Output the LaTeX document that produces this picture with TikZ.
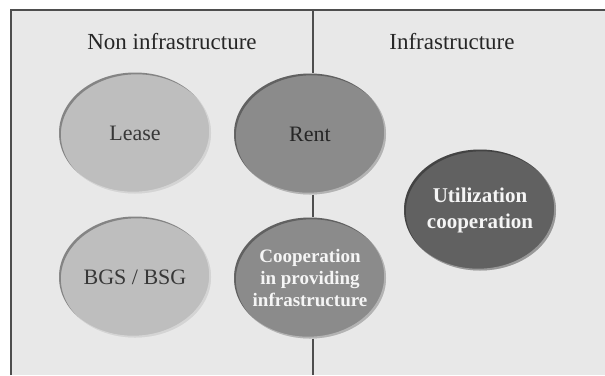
\documentclass[tikz,border=0pt]{standalone}
\usepackage{fontspec}
\setmainfont{Liberation Serif}
\usetikzlibrary{shapes.geometric}
\definecolor{panel}{HTML}{E8E8E8}
\definecolor{rule}{HTML}{4E4E4E}
\definecolor{pale}{HTML}{BEBEBE}
\definecolor{mid}{HTML}{8B8B8B}
\definecolor{deep}{HTML}{616161}

\begin{document}
\begin{tikzpicture}[x=1pt,y=-1pt,
bubble/.style={ellipse,fill=#1,minimum width=152pt,minimum height=121pt,inner sep=0pt,
  path picture={
    \fill[black,opacity=.3,even odd rule] (path picture bounding box.south west) rectangle (path picture bounding box.north east)
      ([shift={(1.8pt,-1.8pt)}]path picture bounding box.center) ellipse [x radius=76pt,y radius=60.5pt];
    \fill[white,opacity=.35,even odd rule] (path picture bounding box.south west) rectangle (path picture bounding box.north east)
      ([shift={(-1.8pt,1.8pt)}]path picture bounding box.center) ellipse [x radius=76pt,y radius=60.5pt];}},
every label/.style={align=center,font=\fontsize{22}{26}\selectfont,text=black!78},
strong/.style={font=\fontsize{21}{26}\selectfont\bfseries,text=white!96!black},
small/.style={font=\fontsize{19}{22}\selectfont\bfseries,text=white!96!black},
title/.style={font=\fontsize{23}{28}\selectfont,text=black!85}
]
\useasboundingbox (0,0) rectangle (605,375);
\fill[panel] (11,10) rectangle (605,375);
\draw[rule,line width=1.6pt] (11,375) -- (11,10) -- (605,10);

\node[title] (non) at (172,42) {Non infrastructure};
\node[title] (infra) at (452,42) {Infrastructure};

\node[bubble=pale,label=center:Lease] (lease) at (135,133) {};
\node[bubble=pale,label=center:BGS / BSG] (bgs) at (135,277) {};
\node[bubble=mid,label={[text=black!85]center:Rent}] (rent) at (310,134) {};
\node[bubble=mid,label={[small]center:Cooperation\\in providing\\infrastructure}] (coop) at (310,278) {};
\node[bubble=deep,label={[strong]center:Utilization\\cooperation}] (util) at (480,210) {};

\coordinate (top) at (313,10);
\coordinate (bottom) at (313,375);
\draw[rule,line width=1.4pt] (top) -- (top |- rent.north) (top |- rent.south) -- (top |- coop.north) (top |- coop.south) -- (bottom);
\end{tikzpicture}
\end{document}
